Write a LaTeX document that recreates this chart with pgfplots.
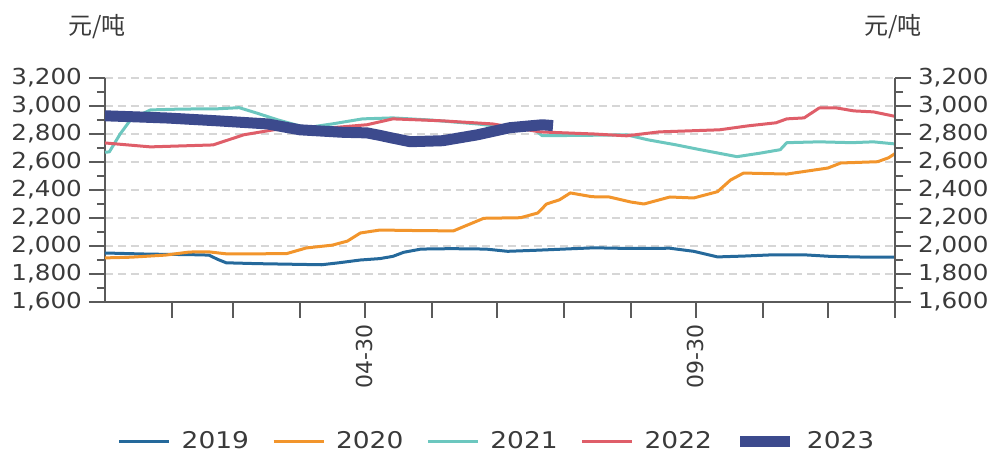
\documentclass[border=0pt]{standalone}
\usepackage{pgfplots}
\pgfplotsset{compat=1.18}
\usepackage{fontspec}
\setmainfont{DejaVu Sans}
\newfontfamily\tickfont[FakeStretch=1.12]{DejaVu Sans}
\newfontfamily\legfont[FakeStretch=1.15]{DejaVu Sans}
\newfontfamily\cjk{Noto Sans CJK SC}

\definecolor{c19}{HTML}{25699B}
\definecolor{c20}{HTML}{F2952C}
\definecolor{c21}{HTML}{6CC7BF}
\definecolor{c22}{HTML}{DF5E69}
\definecolor{c23}{HTML}{3C4A8D}
\definecolor{axisgray}{HTML}{5A5A5A}
\definecolor{gridgray}{HTML}{D6D6D6}
\definecolor{textgray}{HTML}{3A3A3A}

\pgfplotsset{
  common/.style={
    at={(0,0)}, anchor=south west,
    width=395pt, height=112pt, scale only axis,
    xmin=0, xmax=365, ymin=1600, ymax=3200,
    ytick={1600,1800,...,3200},
    minor y tick num=1,
    tick align=outside,
    major tick length=8pt, minor tick length=4pt,
    tick style={draw=axisgray, line width=0.9pt},
    axis line style={draw=axisgray, line width=0.9pt},
    /pgf/number format/1000 sep={,},
    /pgf/number format/assume math mode=true,
    yticklabel style={font=\tickfont\fontsize{11}{13}\selectfont, text=textgray},
  },
}

\begin{document}
\begin{tikzpicture}
\path[use as bounding box] (-52.5pt,-76pt) rectangle (443pt,151pt);

\begin{axis}[
  common,
  axis x line*=bottom, axis y line*=left,
  xtick={31,59,90,120,151,181,212,243,273,304,334,365},
  xticklabels={,,,04-30,,,,,09-30,,,},
  xticklabel style={font=\fontsize{11}{13}\selectfont, text=textgray, rotate=90, anchor=east, inner xsep=3pt},
  ymajorgrids,
  grid style={draw=gridgray, dash pattern=on 4pt off 2.5pt, line width=0.6pt},
  legend columns=5,
  legend style={at={(0.4975,-0.622)}, anchor=center, draw=none, fill=none,
    font=\legfont\fontsize{11.5}{13}\selectfont, text=textgray,
    /tikz/every odd column/.append style={column sep=3.5pt},
    /tikz/every even column/.append style={column sep=9.5pt}},
  legend image code/.code={\draw[#1] (0pt,0pt) -- (25pt,0pt);},
  line join=round,
]
\addplot[c19, line width=1.5pt] coordinates {
(0,1950) (10,1946) (20,1942) (30,1940) (40,1938) (48,1935) (52,1905) (56,1880)
(70,1874) (85,1870) (100,1866) (108,1880) (118,1900) (127,1910) (133,1926)
(138,1955) (146,1978) (160,1981) (176,1978) (186,1962) (200,1970) (215,1980)
(226,1987) (240,1983) (261,1984) (272,1962) (283,1922) (295,1928) (307,1936)
(323,1937) (335,1926) (350,1921) (365,1920)};
\addlegendentry{2019}

\addplot[c20, line width=1.5pt] coordinates {
(0,1915) (12,1920) (28,1935) (39,1957) (48,1958) (56,1944) (70,1944) (84,1946)
(93,1986) (105,2006) (112,2035) (118,2093) (127,2114) (145,2110) (161,2108)
(175,2198) (192,2202) (200,2236) (204,2300) (210,2330) (215,2379) (225,2352)
(233,2350) (243,2314) (249,2300) (261,2350) (272,2343) (283,2388) (289,2471)
(295,2521) (315,2514) (334,2557) (340,2593) (357,2602) (362,2630) (365,2660)};
\addlegendentry{2020}

\addplot[c21, line width=1.5pt] coordinates {
(0,2670) (2,2672) (7,2800) (12,2905) (21,2972) (35,2978) (52,2980) (62,2988)
(70,2950) (80,2900) (93,2845) (105,2872) (119,2908) (133,2915) (150,2900)
(172,2872) (187,2845) (198,2836) (202,2788) (220,2790) (241,2794) (251,2758)
(264,2722) (275,2688) (292,2638) (303,2664) (312,2688) (315,2738) (330,2744)
(345,2738) (355,2744) (365,2729)};
\addlegendentry{2021}

\addplot[c22, line width=1.5pt] coordinates {
(0,2736) (21,2708) (50,2722) (64,2794) (78,2830) (90,2844) (105,2845)
(121,2866) (133,2908) (156,2894) (179,2872) (201,2815) (226,2800) (241,2787)
(256,2815) (284,2830) (297,2858) (310,2880) (315,2908) (323,2915) (330,2986)
(338,2986) (346,2965) (355,2958) (365,2926)};
\addlegendentry{2022}

\addplot[c23, line width=5.5pt] coordinates {
(0,2930) (15,2922) (29,2914) (52,2894) (75,2872) (90,2830) (110,2812)
(121,2808) (127,2790) (133,2770) (141,2745) (156,2752) (172,2794) (187,2845)
(202,2866) (207,2860)};
\addlegendentry{2023}
\end{axis}

\begin{axis}[
  common,
  axis y line*=right, axis x line=none,
  yticklabel pos=right,
]
\addplot[draw=none] coordinates {(0,1600)};
\end{axis}

\node[font=\cjk\fontsize{12}{14}\selectfont, text=textgray] at (-4pt,137.5pt) {元/吨};
\node[font=\cjk\fontsize{12}{14}\selectfont, text=textgray] at (394pt,137.5pt) {元/吨};
\end{tikzpicture}
\end{document}
